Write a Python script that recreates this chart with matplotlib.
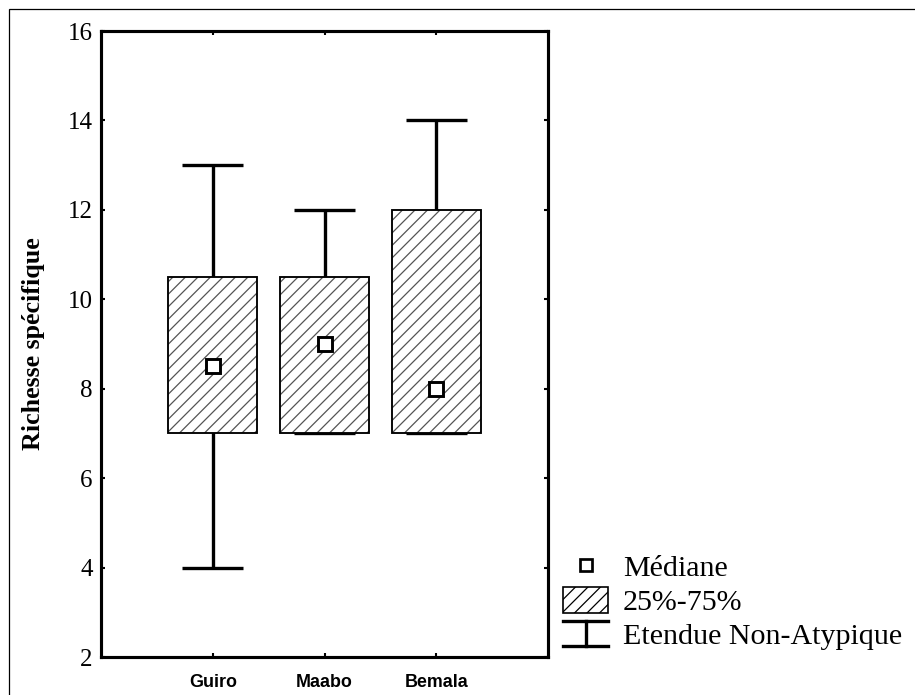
import matplotlib
matplotlib.use("Agg")
import matplotlib.pyplot as plt
from matplotlib.patches import Patch, Rectangle
from matplotlib.lines import Line2D
from matplotlib.legend_handler import HandlerBase

# Données
sites = ["Guiro", "Maabo", "Bemala"]
minimum = [4, 7, 7]
q1 = [7, 7, 7]
mediane = [8.5, 9, 8]
q3 = [10.5, 10.5, 12]
maximum = [13, 12, 14]

pos = [1, 2, 3]
SERIF = ["Liberation Serif", "DejaVu Serif"]

plt.rcParams["hatch.linewidth"] = 0.6


class HandlerEtendue(HandlerBase):
    # symbole "I" pour l'étendue non-atypique
    def create_artists(self, legend, orig_handle, xdescent, ydescent,
                       width, height, fontsize, trans):
        x0, x1 = -xdescent, -xdescent + width
        y0, y1 = -ydescent, -ydescent + height
        xm = (x0 + x1) / 2
        kw = dict(color="black", lw=1.6, transform=trans)
        return [Line2D([x0, x1], [y1, y1], **kw),
                Line2D([xm, xm], [y0, y1], **kw),
                Line2D([x0, x1], [y0, y0], **kw)]


fig = plt.figure(figsize=(915 / 150, 695 / 150), dpi=150)
ax = fig.add_axes([101 / 915, 1 - 657 / 695, 447 / 915, 626 / 695])

# cadre de la figure (seulement haut et gauche visibles)
fig.patches.append(Rectangle((9 / 915, -0.1), 1.2, 1 - 9 / 695 + 0.1,
                             transform=fig.transFigure, fill=False,
                             edgecolor="black", lw=0.6))

# moustaches
for x, lo, hi in zip(pos, minimum, maximum):
    ax.vlines(x, lo, hi, color="black", lw=1.6, zorder=1)
    ax.hlines([lo, hi], x - 0.275, x + 0.275, color="black", lw=1.6, zorder=1)

# boîtes 25%-75%
hauteurs = [b - a for a, b in zip(q1, q3)]
ax.bar(pos, hauteurs, bottom=q1, width=0.8, facecolor="white",
       edgecolor="#555555", hatch="////", lw=0, zorder=2)
ax.bar(pos, hauteurs, bottom=q1, width=0.8, fill=False,
       edgecolor="black", lw=0.9, zorder=3)

# médianes
ax.plot(pos, mediane, ls="none", marker="s", ms=6.5, mfc="white",
        mec="black", mew=1.4, zorder=4)

ax.set_xlim(0, 4)
ax.set_ylim(2, 16)
ax.set_yticks(range(2, 17, 2))
ax.set_xticks(pos)
ax.set_xticklabels(sites, fontsize=8.6, fontweight="bold",
                   family="Liberation Sans")
for lab in ax.get_yticklabels():
    lab.set_fontfamily(SERIF)
    lab.set_fontsize(12)
ax.tick_params(direction="in", length=2, width=1, top=True, right=True,
               color="black")
ax.tick_params(axis="x", pad=8)
ax.tick_params(axis="y", pad=4)
for s in ax.spines.values():
    s.set_linewidth(1.5)

ax.set_ylabel("Richesse spécifique", fontsize=12.5, fontweight="bold",
              family=SERIF, labelpad=11)

handles = [
    Line2D([], [], ls="none", marker="s", ms=5.5, mfc="white",
           mec="black", mew=1.3),
    Patch(facecolor="white", edgecolor="#555555", hatch="////", lw=0.8),
    Line2D([], []),
]
leg = fig.legend(handles, ["Médiane", "25%-75%", "Etendue Non-Atypique"],
                 handler_map={handles[2]: HandlerEtendue()},
                 loc="upper left", bbox_to_anchor=(563 / 915, 1 - 553 / 695),
                 frameon=False, prop={"family": SERIF, "size": 14.4},
                 handlelength=1.5, handleheight=0.95, handletextpad=0.5,
                 labelspacing=0.15, borderaxespad=0, borderpad=0)
leg.legend_handles[1].set_edgecolor("black")

fig.savefig("out.png", dpi=150)
